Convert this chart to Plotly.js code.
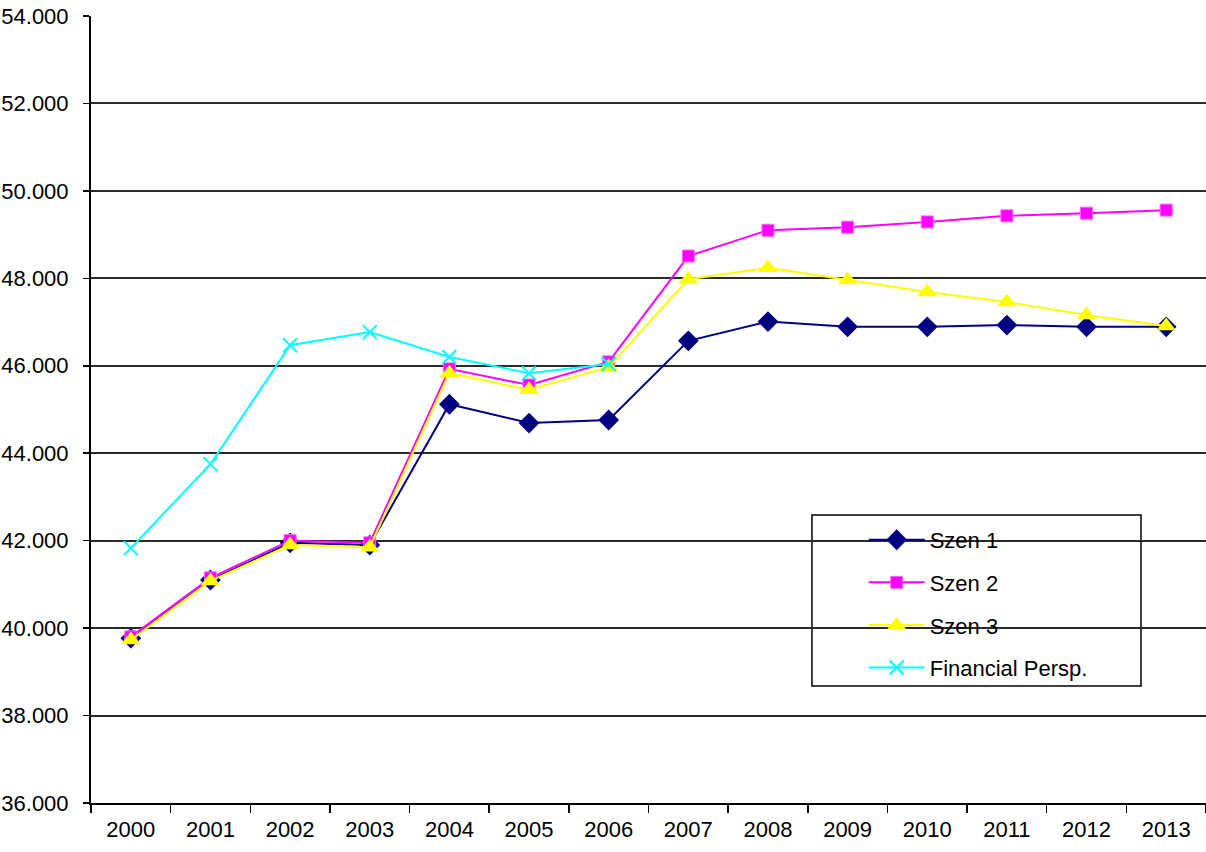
<!DOCTYPE html>
<html>
<head>
<meta charset="utf-8">
<script src="https://cdn.plot.ly/plotly-3.0.1.min.js"></script>
<style>html,body{margin:0;padding:0;background:#fff;}#chart{width:1206px;height:852px;}</style>
</head>
<body>
<div id="chart"></div>
<script>
var years = ["2000","2001","2002","2003","2004","2005","2006","2007","2008","2009","2010","2011","2012","2013"];
var szen1 = [39770, 41100, 41950, 41900, 45120, 44690, 44760, 46570, 47010, 46890, 46890, 46930, 46890, 46890];
var szen2 = [39800, 41150, 42000, 41950, 45930, 45560, 46090, 48510, 49100, 49170, 49290, 49430, 49490, 49560];
var szen3 = [39730, 41080, 41900, 41850, 45830, 45450, 45970, 47980, 48240, 47960, 47690, 47460, 47160, 46910];
var finPersp = [41830, 43750, 46470, 46770, 46200, 45830, 46040, null, null, null, null, null, null, null];
var seriesNames = ["Szen 1", "Szen 2", "Szen 3", "Financial Persp."];
var yTicks = [36000, 38000, 40000, 42000, 44000, 46000, 48000, 50000, 52000, 54000];

var font = {family: "Liberation Sans, Arial, sans-serif", size: 22, color: "#000"};

function tr(name, ys, color, symbol, size, extra) {
  return {
    x: years, y: ys, name: name, type: "scatter", mode: "lines+markers",
    line: {color: color, width: 2},
    marker: Object.assign({color: color, symbol: symbol, size: size}, extra || {}),
    legendgroup: name, connectgaps: false
  };
}

var data = [
  tr(seriesNames[0], szen1, "#000080", "diamond", 16),
  tr(seriesNames[1], szen2, "#FF00FF", "square", 12, {line: {color: "#FF66FF", width: 1}}),
  tr(seriesNames[2], szen3, "#FFFF00", "triangle-up", 17),
  tr(seriesNames[3], finPersp, "#00FFFF", "x-thin", 14, {line: {color: "#00FFFF", width: 2}})
];

var layout = {
  width: 1206, height: 852,
  margin: {l: 91, r: 0, t: 16, b: 49},
  paper_bgcolor: "#fff", plot_bgcolor: "#fff",
  font: font,
  separators: ",.",
  showlegend: true,
  xaxis: {
    type: "category",
    range: [-0.5, 13.5],
    tickson: "boundaries",
    ticks: "outside", ticklen: 8, tickwidth: 1.5, tickcolor: "#000",
    showline: true, linecolor: "#000", linewidth: 2,
    showgrid: false, zeroline: false,
    tickfont: font, ticklabelstandoff: 6
  },
  yaxis: {
    range: [36000, 54000],
    tickvals: yTicks,
    tickformat: ",.0f",
    ticks: "outside", ticklen: 6, tickwidth: 1.5, tickcolor: "#000",
    showline: true, linecolor: "#000", linewidth: 2,
    showgrid: true, gridcolor: "#2a2a2a", gridwidth: 2,
    zeroline: false,
    tickfont: font, ticklabelstandoff: 10
  },
  legend: {
    x: 0.693, y: 0.3609, xanchor: "left", yanchor: "top",
    bgcolor: "rgba(0,0,0,0)", borderwidth: 0,
    font: font,
    traceorder: "grouped",
    tracegroupgap: 11,
    itemwidth: 56
  },
  shapes: [{
    type: "rect", xref: "paper", yref: "paper",
    x0: 0.6466, x1: 0.9417, y0: 0.1487, y1: 0.3659,
    line: {color: "#000", width: 1.5}, fillcolor: "#fff", layer: "below"
  }]
};

Plotly.newPlot("chart", data, layout, {displayModeBar: false, staticPlot: true});
</script>
</body>
</html>
